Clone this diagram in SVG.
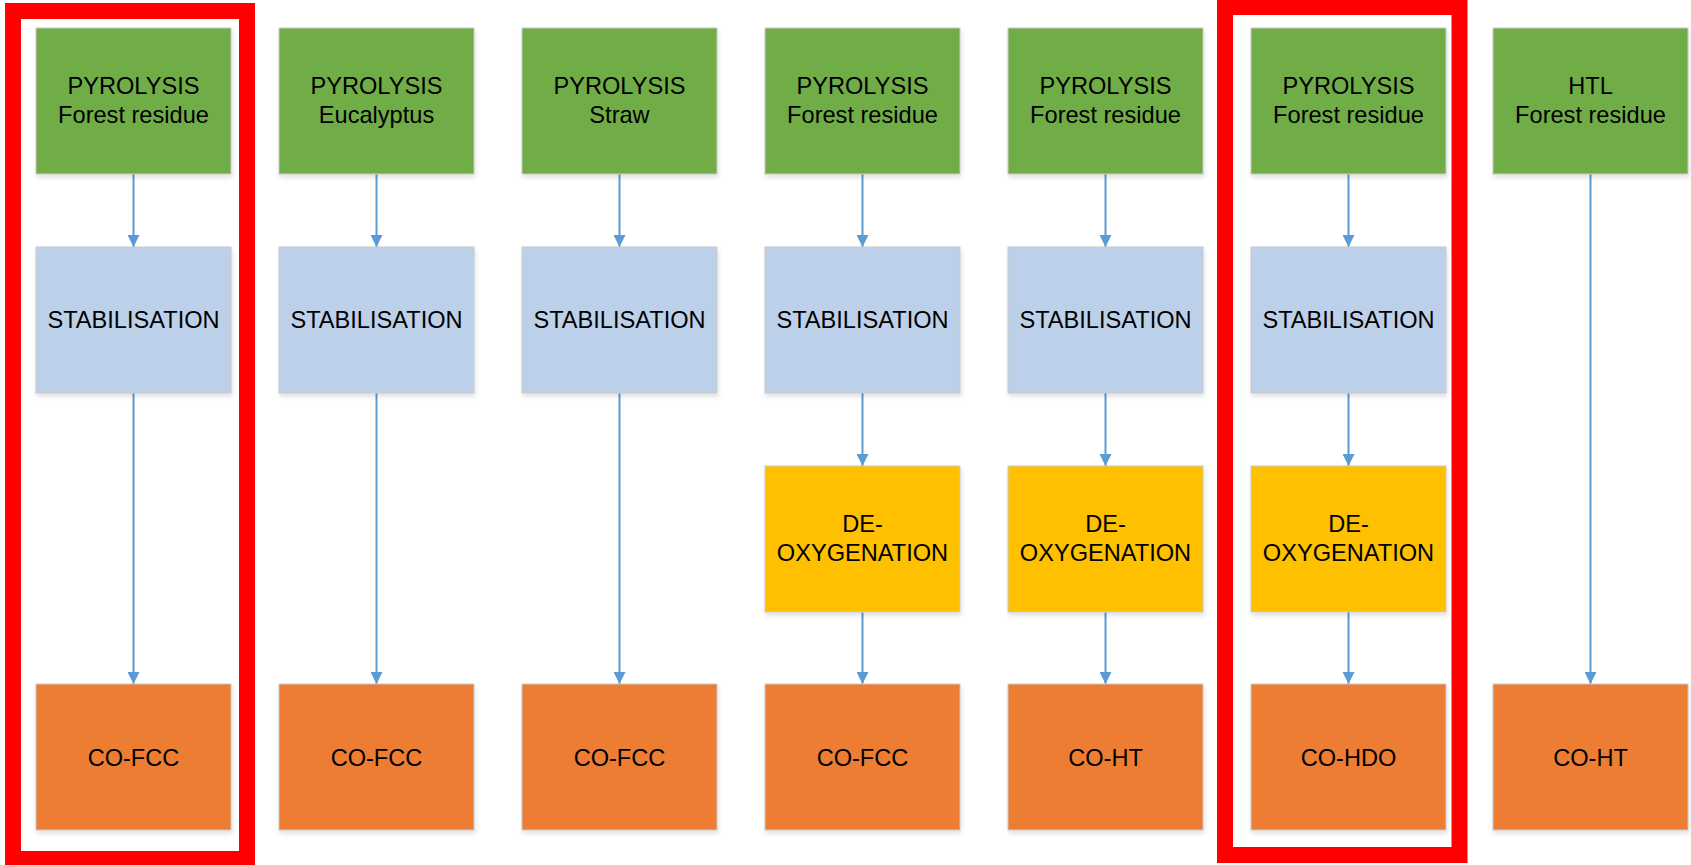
<svg xmlns="http://www.w3.org/2000/svg" width="1691" height="865" viewBox="0 0 1691 865">
<defs>
<style>
.box{stroke:#c9c9c9;stroke-width:1;filter:url(#sh)}
.g{fill:#70AD47}.b{fill:#BDD0E9}.y{fill:#FFC000}.o{fill:#ED7D31}
.t{font-family:"Liberation Sans",Arial,sans-serif;font-size:23.6px;fill:#000;text-anchor:middle}
.c{stroke:#5B9BD5;stroke-width:2;fill:none;marker-end:url(#ah)}
.frame{fill:none;stroke:#FF0000;stroke-width:16}
</style>
<filter id="sh" x="-10%" y="-10%" width="120%" height="125%">
<feDropShadow dx="1" dy="3" stdDeviation="2" flood-color="#000" flood-opacity="0.12"/>
</filter>
<marker id="ah" markerUnits="userSpaceOnUse" markerWidth="12" markerHeight="12" refX="12" refY="6" orient="auto" viewBox="0 0 12 12">
<path d="M0,0 L12,6 L0,12 Z" fill="#5B9BD5"/>
</marker>
</defs>
<rect width="1691" height="865" fill="#fff"/>
<g id="connectors">
<line class="c" x1="133.5" y1="174" x2="133.5" y2="247"/>
<line class="c" x1="133.5" y1="393" x2="133.5" y2="684"/>
<line class="c" x1="376.5" y1="174" x2="376.5" y2="247"/>
<line class="c" x1="376.5" y1="393" x2="376.5" y2="684"/>
<line class="c" x1="619.5" y1="174" x2="619.5" y2="247"/>
<line class="c" x1="619.5" y1="393" x2="619.5" y2="684"/>
<line class="c" x1="862.5" y1="174" x2="862.5" y2="247"/>
<line class="c" x1="862.5" y1="393" x2="862.5" y2="466"/>
<line class="c" x1="862.5" y1="612" x2="862.5" y2="684"/>
<line class="c" x1="1105.5" y1="174" x2="1105.5" y2="247"/>
<line class="c" x1="1105.5" y1="393" x2="1105.5" y2="466"/>
<line class="c" x1="1105.5" y1="612" x2="1105.5" y2="684"/>
<line class="c" x1="1348.5" y1="174" x2="1348.5" y2="247"/>
<line class="c" x1="1348.5" y1="393" x2="1348.5" y2="466"/>
<line class="c" x1="1348.5" y1="612" x2="1348.5" y2="684"/>
<line class="c" x1="1590.5" y1="174" x2="1590.5" y2="684"/>
</g>
<g id="n1a"><rect class="box g" x="36" y="28" width="195" height="146"/><text class="t" x="133.5" y="94.3">PYROLYSIS</text><text class="t" x="133.5" y="122.7">Forest residue</text></g>
<g id="n1b"><rect class="box b" x="36" y="247" width="195" height="146"/><text class="t" x="133.5" y="328">STABILISATION</text></g>
<g id="n1d"><rect class="box o" x="36" y="684" width="195" height="146"/><text class="t" x="133.5" y="766">CO-FCC</text></g>

<g id="n2a"><rect class="box g" x="279" y="28" width="195" height="146"/><text class="t" x="376.5" y="94.3">PYROLYSIS</text><text class="t" x="376.5" y="122.7">Eucalyptus</text></g>
<g id="n2b"><rect class="box b" x="279" y="247" width="195" height="146"/><text class="t" x="376.5" y="328">STABILISATION</text></g>
<g id="n2d"><rect class="box o" x="279" y="684" width="195" height="146"/><text class="t" x="376.5" y="766">CO-FCC</text></g>

<g id="n3a"><rect class="box g" x="522" y="28" width="195" height="146"/><text class="t" x="619.5" y="94.3">PYROLYSIS</text><text class="t" x="619.5" y="122.7">Straw</text></g>
<g id="n3b"><rect class="box b" x="522" y="247" width="195" height="146"/><text class="t" x="619.5" y="328">STABILISATION</text></g>
<g id="n3d"><rect class="box o" x="522" y="684" width="195" height="146"/><text class="t" x="619.5" y="766">CO-FCC</text></g>

<g id="n4a"><rect class="box g" x="765" y="28" width="195" height="146"/><text class="t" x="862.5" y="94.3">PYROLYSIS</text><text class="t" x="862.5" y="122.7">Forest residue</text></g>
<g id="n4b"><rect class="box b" x="765" y="247" width="195" height="146"/><text class="t" x="862.5" y="328">STABILISATION</text></g>
<g id="n4c"><rect class="box y" x="765" y="466" width="195" height="146"/><text class="t" x="862.5" y="531.7">DE-</text><text class="t" x="862.5" y="560.7">OXYGENATION</text></g>
<g id="n4d"><rect class="box o" x="765" y="684" width="195" height="146"/><text class="t" x="862.5" y="766">CO-FCC</text></g>

<g id="n5a"><rect class="box g" x="1008" y="28" width="195" height="146"/><text class="t" x="1105.5" y="94.3">PYROLYSIS</text><text class="t" x="1105.5" y="122.7">Forest residue</text></g>
<g id="n5b"><rect class="box b" x="1008" y="247" width="195" height="146"/><text class="t" x="1105.5" y="328">STABILISATION</text></g>
<g id="n5c"><rect class="box y" x="1008" y="466" width="195" height="146"/><text class="t" x="1105.5" y="531.7">DE-</text><text class="t" x="1105.5" y="560.7">OXYGENATION</text></g>
<g id="n5d"><rect class="box o" x="1008" y="684" width="195" height="146"/><text class="t" x="1105.5" y="766">CO-HT</text></g>

<g id="n6a"><rect class="box g" x="1251" y="28" width="195" height="146"/><text class="t" x="1348.5" y="94.3">PYROLYSIS</text><text class="t" x="1348.5" y="122.7">Forest residue</text></g>
<g id="n6b"><rect class="box b" x="1251" y="247" width="195" height="146"/><text class="t" x="1348.5" y="328">STABILISATION</text></g>
<g id="n6c"><rect class="box y" x="1251" y="466" width="195" height="146"/><text class="t" x="1348.5" y="531.7">DE-</text><text class="t" x="1348.5" y="560.7">OXYGENATION</text></g>
<g id="n6d"><rect class="box o" x="1251" y="684" width="195" height="146"/><text class="t" x="1348.5" y="766">CO-HDO</text></g>

<g id="n7a"><rect class="box g" x="1493" y="28" width="195" height="146"/><text class="t" x="1590.5" y="94.3">HTL</text><text class="t" x="1590.5" y="122.7">Forest residue</text></g>
<g id="n7d"><rect class="box o" x="1493" y="684" width="195" height="146"/><text class="t" x="1590.5" y="766">CO-HT</text></g>

<g id="frames">
<rect class="frame" x="13" y="11" width="234" height="848"/>
<rect class="frame" x="1225" y="7" width="234.5" height="848"/>
</g>
</svg>
